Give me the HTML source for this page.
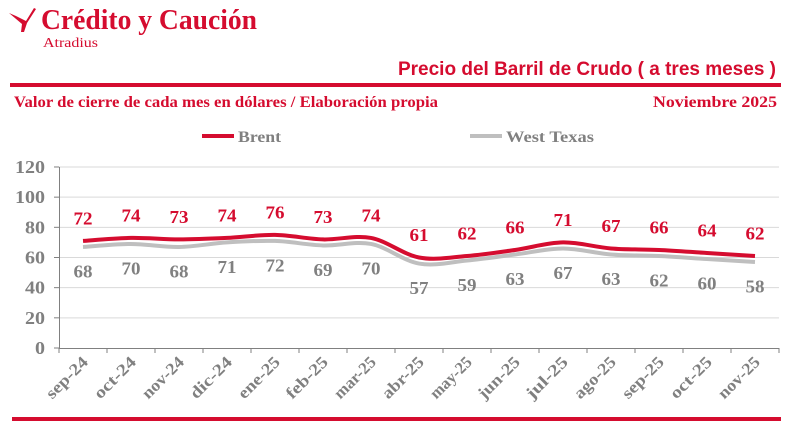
<!DOCTYPE html>
<html><head><meta charset="utf-8"><style>
body{margin:0;background:#fff;width:791px;height:431px;overflow:hidden}
svg{display:block}
</style></head><body>
<svg id="s" width="791" height="431" xmlns="http://www.w3.org/2000/svg" font-family="Liberation Serif, serif">
<path d="M9 13 L16 16 L26 21 L34 8 L36 9 L27 23 L24 32 L21 32 L22 24 Z" fill="#d50c2f"/>
<text x="41" y="29" font-size="28" font-weight="bold" fill="#d50c2f" textLength="216" lengthAdjust="spacingAndGlyphs">Crédito y Caución</text>
<text x="43" y="47" font-size="14" fill="#d50c2f" textLength="55" lengthAdjust="spacingAndGlyphs">Atradius</text>
<text x="776" y="75" text-anchor="end" font-family="Liberation Sans, sans-serif" font-size="19" font-weight="bold" fill="#d50c2f">Precio del Barril de Crudo ( a tres meses )</text>
<rect x="10" y="83" width="771" height="4" fill="#d50c2f"/>
<text x="14" y="107" font-size="16" font-weight="bold" fill="#d50c2f" textLength="424" lengthAdjust="spacingAndGlyphs">Valor de cierre de cada mes en dólares / Elaboración propia</text>
<text x="653" y="107" font-size="16" font-weight="bold" fill="#d50c2f" textLength="124" lengthAdjust="spacingAndGlyphs">Noviembre  2025</text>
<rect x="202" y="134" width="32" height="4" fill="#d50c2f"/>
<text x="238" y="142" font-size="16" font-weight="bold" fill="#808080" textLength="43" lengthAdjust="spacingAndGlyphs">Brent</text>
<rect x="470" y="134" width="32" height="4" fill="#bfbfbf"/>
<text x="506" y="142" font-size="16" font-weight="bold" fill="#808080" textLength="88" lengthAdjust="spacingAndGlyphs">West Texas</text>
<g id="g"></g>
<rect x="12" y="417" width="769" height="4" fill="#d50c2f"/>
</svg>
<script>
var g=document.getElementById('g'),h='';
var B=[72,74,73,74,76,73,74,61,62,66,71,67,66,64,62],W=[68,70,68,71,72,69,70,57,59,63,67,63,62,60,58];
var L=['sep-24','oct-24','nov-24','dic-24','ene-25','feb-25','mar-25','abr-25','may-25','jun-25','jul-25','ago-25','sep-25','oct-25','nov-25'];
function Y(v){return 348-v*1.508}
for(var i=0;i<=6;i++){var y=348-i*30.17;var s=String(i*20);
 if(i>0)h+='<line x1="59" x2="779" y1="'+y+'" y2="'+y+'" stroke="#d9d9d9" stroke-width="1"/>';
 h+='<line x1="54" x2="59" y1="'+y+'" y2="'+y+'" stroke="#808080"/>';
 h+='<text x="45" y="'+(y+6)+'" text-anchor="end" font-size="18" font-weight="bold" fill="#808080" textLength="'+(s.length*10)+'" lengthAdjust="spacingAndGlyphs">'+s+'</text>';}
h+='<line x1="59.5" x2="59.5" y1="167" y2="348" stroke="#808080"/><line x1="59" x2="779" y1="348.5" y2="348.5" stroke="#808080"/>';
for(var i=0;i<=15;i++){var x=59+i*48;h+='<line x1="'+x+'" x2="'+x+'" y1="348" y2="353" stroke="#808080"/>';}
function path(V,off){var p=V.map(function(v,i){return[83+48*i,Y(v)+off]});var d='M'+p[0];
 for(var i=0;i<p.length-1;i++){var a=p[Math.max(i-1,0)],b=p[i],c=p[i+1],e=p[Math.min(i+2,p.length-1)];
 d+=' C'+(b[0]+(c[0]-a[0])/6)+','+(b[1]+(c[1]-a[1])/6)+' '+(c[0]-(e[0]-b[0])/6)+','+(c[1]-(e[1]-b[1])/6)+' '+c;}return d;}
h+='<path d="'+path(W,1.5)+'" fill="none" stroke="#bfbfbf" stroke-width="4"/>';
h+='<path d="'+path(B,1.5)+'" fill="none" stroke="#d50c2f" stroke-width="4"/>';
for(var i=0;i<15;i++){var x=83+48*i;
 h+='<text x="'+x+'" y="'+(Y(B[i])-15)+'" text-anchor="middle" font-size="18" font-weight="bold" fill="#d50c2f" textLength="19" lengthAdjust="spacingAndGlyphs">'+B[i]+'</text>';
 h+='<text x="'+x+'" y="'+(Y(W[i])+32)+'" text-anchor="middle" font-size="18" font-weight="bold" fill="#808080" textLength="19" lengthAdjust="spacingAndGlyphs">'+W[i]+'</text>';
 h+='<text transform="translate('+(x+6)+',363) rotate(-45)" text-anchor="end" font-size="16.5" font-weight="bold" fill="#808080" textLength="52" lengthAdjust="spacingAndGlyphs">'+L[i]+'</text>';}
g.innerHTML=h;
</script>
</body></html>
